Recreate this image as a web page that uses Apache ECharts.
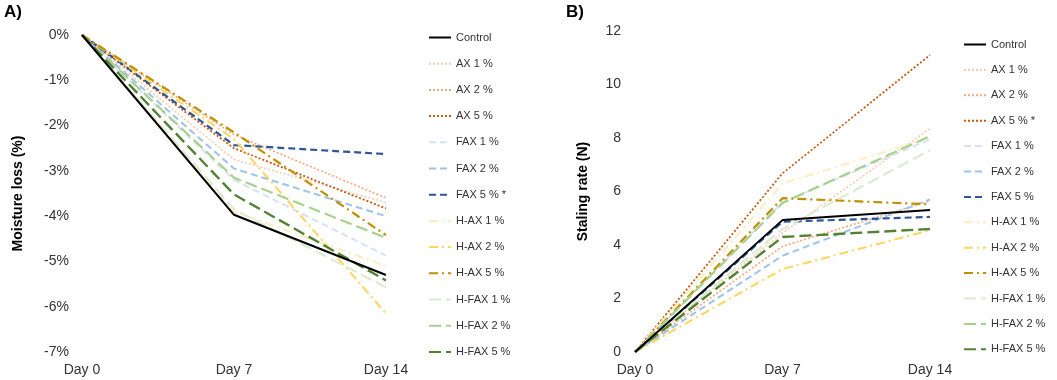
<!DOCTYPE html>
<html>
<head>
<meta charset="utf-8">
<script src="https://cdn.jsdelivr.net/npm/echarts@6/dist/echarts.min.js"></script>
<style>
  html, body { margin: 0; padding: 0; background: #fff; }
  #chart { width: 1057px; height: 380px; }
</style>
</head>
<body>
<div id="chart"></div>
<script>
// Sampling days
const days = ['Day 0', 'Day 7', 'Day 14'];

// Series names per panel (asterisk marks significance)
const namesA = ['Control', 'AX 1 %', 'AX 2 %', 'AX 5 %', 'FAX 1 %', 'FAX 2 %', 'FAX 5 % *',
  'H-AX 1 %', 'H-AX 2 %', 'H-AX 5 %', 'H-FAX 1 %', 'H-FAX 2 %', 'H-FAX 5 %'];
const namesB = ['Control', 'AX 1 %', 'AX 2 %', 'AX 5 % *', 'FAX 1 %', 'FAX 2 %', 'FAX 5 %',
  'H-AX 1 %', 'H-AX 2 %', 'H-AX 5 %', 'H-FAX 1 %', 'H-FAX 2 %', 'H-FAX 5 %'];

// Panel A: moisture loss (%)
const moistControl = [0, -3.97, -5.30];
const moistAX1   = [0, -2.75, -3.70];
const moistAX2   = [0, -2.20, -3.60];
const moistAX5   = [0, -2.50, -3.83];
const moistFAX1  = [0, -3.20, -4.87];
const moistFAX2  = [0, -2.95, -4.00];
const moistFAX5  = [0, -2.43, -2.63];
const moistHAX1  = [0, -3.90, -5.10];
const moistHAX2  = [0, -2.30, -6.15];
const moistHAX5  = [0, -2.15, -4.42];
const moistHFAX1 = [0, -3.85, -5.57];
const moistHFAX2 = [0, -3.15, -4.48];
const moistHFAX5 = [0, -3.52, -5.42];

// Panel B: staling rate (N)
const stalControl = [0, 4.93, 5.31];
const stalAX1   = [0, 4.45, 8.35];
const stalAX2   = [0, 3.95, 5.65];
const stalAX5   = [0, 6.68, 11.10];
const stalFAX1  = [0, 5.60, 7.95];
const stalFAX2  = [0, 3.60, 5.70];
const stalFAX5  = [0, 4.87, 5.05];
const stalHAX1  = [0, 6.30, 8.00];
const stalHAX2  = [0, 3.10, 4.55];
const stalHAX5  = [0, 5.75, 5.52];
const stalHFAX1 = [0, 4.60, 7.55];
const stalHFAX2 = [0, 5.57, 8.07];
const stalHFAX5 = [0, 4.30, 4.60];

const moistData = [moistControl, moistAX1, moistAX2, moistAX5, moistFAX1, moistFAX2, moistFAX5,
  moistHAX1, moistHAX2, moistHAX5, moistHFAX1, moistHFAX2, moistHFAX5];
const stalData = [stalControl, stalAX1, stalAX2, stalAX5, stalFAX1, stalFAX2, stalFAX5,
  stalHAX1, stalHAX2, stalHAX5, stalHFAX1, stalHFAX2, stalHFAX5];

// Line styles per treatment
const dotted = [2, 2];
const dashed = [7, 4];
const dashDot = [9, 4, 2, 4];
const longDash = [12, 5];
const styles = [
  { color: '#000000', type: 'solid', width: 2 },
  { color: '#f8cbad', type: dotted, width: 1.6 },
  { color: '#f4a77a', type: dotted, width: 1.6 },
  { color: '#c55a11', type: dotted, width: 1.8 },
  { color: '#d6e2f3', type: dashed, width: 2 },
  { color: '#9dc3e6', type: dashed, width: 2 },
  { color: '#2f5597', type: dashed, width: 2.2 },
  { color: '#ffecc0', type: dashDot, width: 2 },
  { color: '#ffd35c', type: dashDot, width: 2 },
  { color: '#bf9000', type: dashDot, width: 2.2 },
  { color: '#dcebd2', type: longDash, width: 2.2 },
  { color: '#a9d18e', type: longDash, width: 2.2 },
  { color: '#548235', type: longDash, width: 2.4 }
];

const font = 'Liberation Sans, Arial, sans-serif';

function buildSeries(names, data, axisIndex) {
  return names.map((n, i) => ({
    name: n,
    type: 'line',
    xAxisIndex: axisIndex,
    yAxisIndex: axisIndex,
    data: data[i],
    symbol: 'none',
    z: i === 0 ? 5 : 2,
    lineStyle: { color: styles[i].color, type: styles[i].type, width: styles[i].width },
    itemStyle: { color: styles[i].color },
    emphasis: { disabled: true },
    animation: false
  }));
}

function legendFor(names, left, top, gap) {
  return {
    orient: 'vertical',
    left: left,
    top: top,
    itemWidth: 22,
    itemHeight: 10,
    itemGap: gap,
    selectedMode: false,
    itemStyle: { opacity: 0 },
    data: names,
    textStyle: { fontFamily: font, fontSize: 11, color: '#333' }
  };
}

const axisLabelStyle = { fontFamily: font, fontSize: 14, color: '#333' };

const chart = echarts.init(document.getElementById('chart'), null, { renderer: 'canvas' });
chart.setOption({
  backgroundColor: '#ffffff',
  animation: false,
  graphic: [
    { type: 'text', left: 4, top: 4, style: { text: 'A)', font: 'bold 17px ' + font, fill: '#000' } },
    { type: 'text', left: 566, top: 4, style: { text: 'B)', font: 'bold 17px ' + font, fill: '#000' } }
  ],
  grid: [
    { left: 82, top: 35, width: 304, height: 317 },
    { left: 635, top: 31, width: 295, height: 321 }
  ],
  legend: [
    legendFor(namesA, 423, 27, 15.2),
    legendFor(namesB, 958, 34, 14.4)
  ],
  xAxis: [0, 1].map(g => ({
    type: 'category',
    gridIndex: g,
    data: days,
    boundaryGap: false,
    axisLine: { show: false },
    axisTick: { show: false },
    splitLine: { show: false },
    axisLabel: Object.assign({ margin: 11 }, axisLabelStyle)
  })),
  yAxis: [
    {
      type: 'value', gridIndex: 0, min: -7, max: 0, interval: 1,
      name: 'Moisture loss (%)', nameLocation: 'middle', nameGap: 57, nameRotate: 90,
      nameTextStyle: { fontFamily: font, fontSize: 14, fontWeight: 'bold', color: '#000' },
      axisLine: { show: false }, axisTick: { show: false }, splitLine: { show: false },
      axisLabel: Object.assign({ margin: 13, formatter: v => v + '%' }, axisLabelStyle)
    },
    {
      type: 'value', gridIndex: 1, min: 0, max: 12, interval: 2,
      name: 'Staling rate (N)', nameLocation: 'middle', nameGap: 45, nameRotate: 90,
      nameTextStyle: { fontFamily: font, fontSize: 14, fontWeight: 'bold', color: '#000' },
      axisLine: { show: false }, axisTick: { show: false }, splitLine: { show: false },
      axisLabel: Object.assign({ margin: 14 }, axisLabelStyle)
    }
  ],
  series: buildSeries(namesA, moistData, 0).concat(buildSeries(namesB, stalData, 1))
});
</script>
</body>
</html>
